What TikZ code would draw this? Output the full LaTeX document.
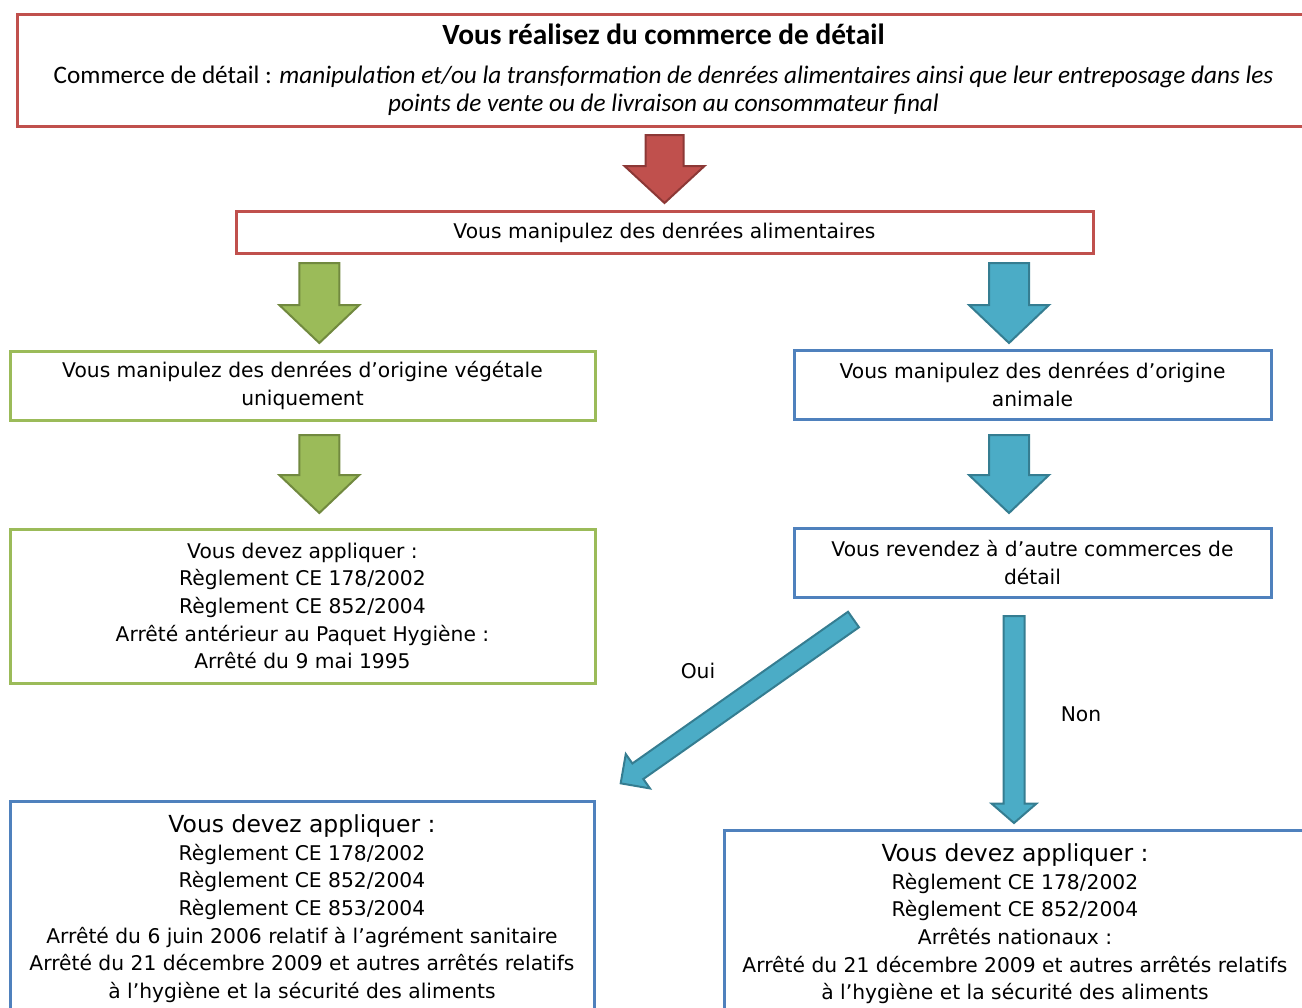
\documentclass[tikz,border=0pt]{standalone}
\usepackage{fontspec}
\setmainfont{DejaVu Sans}
\newfontfamily\topfont{Carlito}
\newcommand{\bodyfont}{\fontsize{15.2}{20.7}\selectfont}
\newcommand{\bigfont}{\fontsize{17.6}{20.7}\selectfont}

\definecolor{boxred}{HTML}{C0504D}
\definecolor{boxgreen}{HTML}{9BBB59}
\definecolor{boxblue}{HTML}{4F81BD}
\definecolor{arrredline}{HTML}{8C3836}
\definecolor{arrgreenline}{HTML}{71893F}
\definecolor{arrteal}{HTML}{4BACC6}
\definecolor{arrtealline}{HTML}{357D91}

\tikzset{every picture/.style={line width=0.75pt}}
\tikzset{
  flowbox/.style={draw, line width=2.25pt, fill=white, inner sep=0pt, align=center, font=\bodyfont},
  redbox/.style={flowbox, draw=boxred},
  greenbox/.style={flowbox, draw=boxgreen},
  bluebox/.style={flowbox, draw=boxblue},
  lbl/.style={font=\bodyfont, inner sep=0pt},
  redarrow/.style={fill=boxred, draw=arrredline, line width=1.5pt},
  greenarrow/.style={fill=boxgreen, draw=arrgreenline, line width=1.5pt},
  tealarrow/.style={fill=arrteal, draw=arrtealline, line width=1.5pt},
  % length / shaft half width / head half width / head length
  pics/fatarrow/.style n args={4}{code={
    \path[pic actions] (0,-#2) -- ({#1-#4},-#2) -- ({#1-#4},-#3) -- (#1,0)
      -- ({#1-#4},#3) -- ({#1-#4},#2) -- (0,#2) -- cycle;
  }},
}

\begin{document}
\begin{tikzpicture}[x=0.75pt,y=0.75pt,yscale=-1,xscale=1]
\path[use as bounding box] (0,0) rectangle (1302,1007);
\clip (0,0) rectangle (1302,1007);

% Text Node
\node[redbox, minimum width=969.75pt, minimum height=84pt, font=\topfont\fontsize{18.9}{21}\selectfont] (intro) at (663.5,70)
  {{\fontsize{22}{24}\selectfont\bfseries Vous réalisez du commerce de détail}\\[8pt]
   Commerce de détail : \textit{manipulation et/ou la transformation de denrées alimentaires ainsi que leur entreposage dans les}\\
   \textit{points de vente ou de livraison au consommateur final}};
% Text Node
\node[redbox, minimum width=642.75pt, minimum height=31.5pt] (manip) at (664.5,232) {Vous manipulez des denrées alimentaires};
% Text Node
\node[greenbox, minimum width=438.75pt, minimum height=51.75pt] (vege) at (302.5,385.5) {Vous manipulez des denrées d’origine végétale\\uniquement};
% Text Node
\node[bluebox, minimum width=357.75pt, minimum height=51.75pt] (anim) at (1032.5,384.5) {Vous manipulez des denrées d’origine\\animale};
% Text Node
\node[greenbox, minimum width=438.75pt, minimum height=115.5pt] (vegeregl) at (302.5,606)
  {Vous devez appliquer :\\Règlement CE 178/2002\\Règlement CE 852/2004\\Arrêté antérieur au Paquet Hygiène :\\Arrêté du 9 mai 1995};
% Text Node
\node[bluebox, minimum width=357.75pt, minimum height=51.75pt] (revente) at (1032.5,562.5) {Vous revendez à d’autre commerces de\\détail};
% Text Node
\node[bluebox, minimum width=438pt, inner ysep=10pt, anchor=north] (agrement) at (302,800)
  {{\bigfont Vous devez appliquer :}\\Règlement CE 178/2002\\Règlement CE 852/2004\\Règlement CE 853/2004\\
   Arrêté du 6 juin 2006 relatif à l’agrément sanitaire\\Arrêté du 21 décembre 2009 et autres arrêtés relatifs\\
   à l’hygiène et la sécurité des aliments};
% Text Node
\node[bluebox, minimum width=436.5pt, inner ysep=10pt, anchor=north] (nationaux) at (1015,829)
  {{\bigfont Vous devez appliquer :}\\Règlement CE 178/2002\\Règlement CE 852/2004\\Arrêtés nationaux :\\
   Arrêté du 21 décembre 2009 et autres arrêtés relatifs\\à l’hygiène et la sécurité des aliments};

%Shape: Block Arrows
\path (664.5,135) pic[redarrow, rotate=-90] {fatarrow={68}{19}{40}{37}};
\path (319.3,263) pic[greenarrow, rotate=-90] {fatarrow={80}{20}{40}{38}};
\path (1009,263) pic[tealarrow, rotate=-90] {fatarrow={80}{20}{40}{38}};
\path (319.3,435) pic[greenarrow, rotate=-90] {fatarrow={78}{20}{40}{38}};
\path (1009,435) pic[tealarrow, rotate=-90] {fatarrow={78}{20}{40}{38}};
\path (853.5,619.5) pic[tealarrow, rotate=-144.87] {fatarrow={284.7}{9.5}{21}{21}};
\path (1014,616) pic[tealarrow, rotate=-90] {fatarrow={207}{10.5}{22.5}{19.5}};

% Text Node
\node[lbl] (oui) at (698,671) {Oui};
% Text Node
\node[lbl] (non) at (1081,714) {Non};

\end{tikzpicture}
\end{document}
